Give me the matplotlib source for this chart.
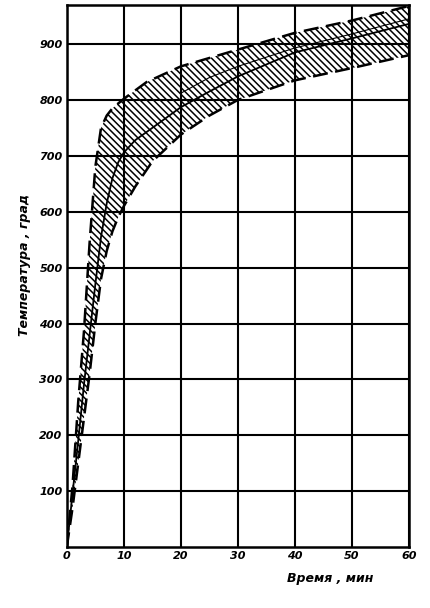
import matplotlib.pyplot as plt
import numpy as np

# время, мин / температура, град
t_upper = [0, 1, 2, 3, 4, 5, 6, 7, 8, 10, 14, 20, 28, 33, 40, 50, 60]
T_upper = [0, 110, 260, 385, 545, 680, 750, 772, 785, 802, 832, 860, 884, 899, 920, 942, 968]

t_lower = [0, 1, 2, 3, 4, 5, 6, 7, 8, 9, 10, 12, 15, 20, 25, 30, 40, 50, 60]
T_lower = [0, 70, 150, 230, 310, 400, 480, 530, 565, 590, 610, 645, 690, 738, 772, 800, 835, 857, 880]

t_mid = [0, 1, 2, 3, 4, 5, 6, 7, 8, 9, 10, 12, 15, 20, 25, 30, 40, 50, 60]
T_mid = [0, 95, 190, 290, 380, 470, 555, 615, 660, 688, 706, 728, 750, 787, 815, 842, 885, 910, 936]

t_inner = [20, 25, 30, 40, 50, 60]
T_inner = [812, 840, 860, 893, 918, 945]

x_ticks = [0, 10, 20, 30, 40, 50, 60]
y_ticks = [100, 200, 300, 400, 500, 600, 700, 800, 900]

plt.rcParams['hatch.linewidth'] = 1.1

fig = plt.figure(figsize=(4.31, 6.08), dpi=100)
ax = fig.add_axes([0.155, 0.100, 0.794, 0.892])

# заштрихованная зона
band_t = np.concatenate([t_upper, t_lower[::-1]])
band_T = np.concatenate([T_upper, T_lower[::-1]])
ax.fill(band_t, band_T, facecolor='none', edgecolor='black', hatch='\\\\\\\\\\', linewidth=0)

ax.plot(t_upper, T_upper, color='black', lw=1.8, dashes=(6, 3))
ax.plot(t_lower, T_lower, color='black', lw=1.8, dashes=(6, 3))
ax.plot(t_mid, T_mid, color='black', lw=1.3)
ax.plot(t_inner, T_inner, color='black', lw=0.8)

ax.set_xlim(0, 60)
ax.set_ylim(0, 970)
ax.set_xticks(x_ticks)
ax.set_yticks(y_ticks)
ax.grid(True, color='black', lw=1.5)
ax.set_axisbelow(True)
for s in ax.spines.values():
    s.set_linewidth(1.8)
ax.tick_params(length=0, pad=3, labelsize=8)
for lab in ax.get_xticklabels() + ax.get_yticklabels():
    lab.set_fontstyle('italic')
    lab.set_fontweight('bold')

ax.set_ylabel('Температура , град', fontstyle='italic', fontweight='bold', fontsize=9)
ax.yaxis.set_label_coords(-0.105, 0.52)
ax.set_xlabel('Время , мин', fontstyle='italic', fontweight='bold', fontsize=9)
ax.xaxis.set_label_coords(0.77, -0.045)

fig.savefig('out.png', dpi=100)
